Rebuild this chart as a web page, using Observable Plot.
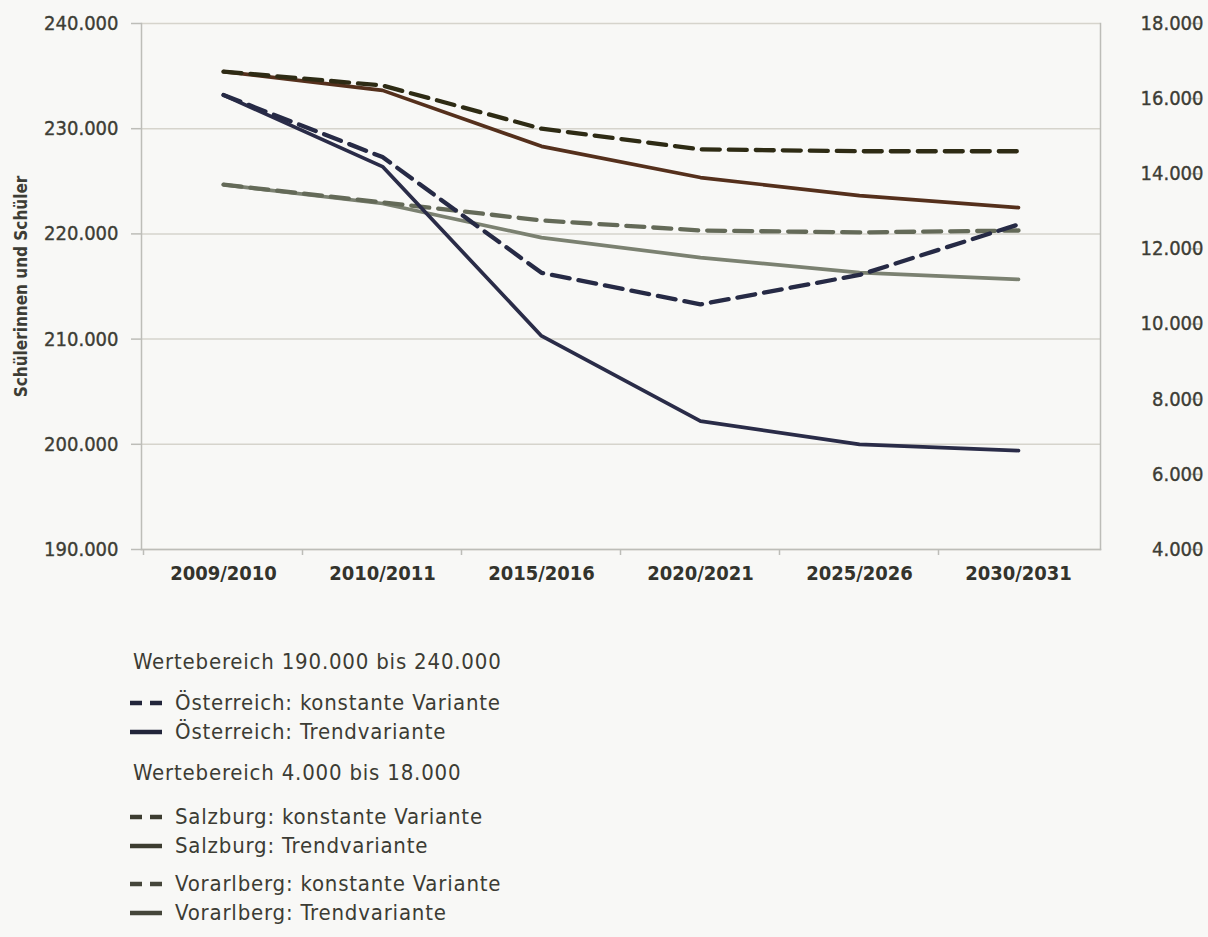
<!DOCTYPE html>
<html><head><meta charset="utf-8">
<script src="https://cdn.jsdelivr.net/npm/d3@7"></script>
<script src="https://cdn.jsdelivr.net/npm/@observablehq/plot@0.6"></script>
<style>
html,body{margin:0;padding:0;background:#f8f8f6;}
#wrap{position:relative;width:1208px;height:937px;overflow:hidden;}
#chart{position:absolute;left:0;top:0;}
.lg{position:absolute;font-family:"DejaVu Sans Condensed","DejaVu Sans",sans-serif;font-size:22px;color:#3c3c34;line-height:26px;white-space:nowrap;letter-spacing:0.8px;}
.lg svg{position:absolute;left:-46px;top:10px;}
</style></head><body>
<div id="wrap"><div id="chart"></div><div id="legend"></div></div>
<script>
// ---- data ----
const categories = ["2009/2010", "2010/2011", "2015/2016", "2020/2021", "2025/2026", "2030/2031"];
// left axis (190.000 bis 240.000)
const oesterreichKonstant = [233200, 227300, 216300, 213300, 216100, 220900];
const oesterreichTrend    = [233200, 226400, 210300, 202200, 200000, 199400];
// right axis (4.000 bis 18.000)
const salzburgKonstant   = [16720, 16350, 15200, 14650, 14600, 14600];
const salzburgTrend      = [16720, 16220, 14730, 13900, 13420, 13100];
const vorarlbergKonstant = [13710, 13240, 12760, 12490, 12440, 12490];
const vorarlbergTrend    = [13710, 13210, 12300, 11770, 11370, 11190];
const leftTicks  = [190000, 200000, 210000, 220000, 230000, 240000];
const rightTicks = [4000, 6000, 8000, 10000, 12000, 14000, 16000, 18000];
const yLabel = "Schülerinnen und Schüler";
const legendHeader1 = "Wertebereich 190.000 bis 240.000";
const legendHeader2 = "Wertebereich 4.000 bis 18.000";

// ---- helpers ----
const de = d3.formatLocale({decimal: ",", thousands: ".", grouping: [3], currency: ["", " €"]}).format(",");
const L0 = leftTicks[0], L1 = leftTicks[leftTicks.length - 1];
const R0 = rightTicks[0], R1 = rightTicks[rightTicks.length - 1];
const toLeft = v => L0 + (v - R0) * (L1 - L0) / (R1 - R0);
const fromLeft = v => R0 + (v - L0) * (R1 - R0) / (L1 - L0);

const series = [
  {name: "Vorarlberg: Trendvariante", values: vorarlbergTrend, right: true, color: "#7b8171", dash: null, lg: "#45463a"},
  {name: "Vorarlberg: konstante Variante", values: vorarlbergKonstant, right: true, color: "#646a58", dash: "18,9", lg: "#45463a"},
  {name: "Salzburg: Trendvariante", values: salzburgTrend, right: true, color: "#55301c", dash: null, lg: "#3c3c30"},
  {name: "Salzburg: konstante Variante", values: salzburgKonstant, right: true, color: "#2e2b14", dash: "18,9", lg: "#3c3c30"},
  {name: "Österreich: Trendvariante", values: oesterreichTrend, right: false, color: "#2a2c48", dash: null, lg: "#22253a"},
  {name: "Österreich: konstante Variante", values: oesterreichKonstant, right: false, color: "#262a45", dash: "18,9", lg: "#22253a"}
];

const lineMarks = series.map(s => Plot.line(
  categories.map((c, i) => ({cat: c, v: s.right ? toLeft(s.values[i]) : s.values[i]})),
  {x: "cat", y: "v", stroke: s.color, strokeWidth: s.dash ? 4.3 : 3.7, strokeDasharray: s.dash, strokeLinejoin: "round", curve: "linear"}
));

const axisColor = "#bdbdb8";
const font = "DejaVu Sans Condensed";

const plot = Plot.plot({
  width: 1208, height: 600,
  marginLeft: 141, marginRight: 108, marginTop: 23, marginBottom: 51,
  style: {background: "transparent", fontFamily: font, color: "#3d3d35"},
  x: {type: "point", domain: categories, padding: 0.5, label: null},
  y: {domain: [L0, L1], label: null},
  marks: [
    Plot.ruleY(leftTicks, {stroke: "#d6d4cc", strokeWidth: 1.5}),
    Plot.frame({anchor: "left", stroke: axisColor, strokeWidth: 1.5}),
    Plot.frame({anchor: "right", stroke: axisColor, strokeWidth: 1.5}),
    Plot.frame({anchor: "bottom", stroke: axisColor, strokeWidth: 1.5}),
    Plot.ruleX(categories, {x: d => d, y1: L0, y2: L0, dx: -80, insetBottom: -6, stroke: axisColor, strokeWidth: 1.5}),
    Plot.axisY(leftTicks, {anchor: "left", label: null, tickSize: 10, tickPadding: 13, tickFormat: de, fontSize: 20, stroke: axisColor, strokeWidth: 1.5, fill: "#3d3d35", textStroke: "#3d3d35", textStrokeWidth: 0.35}),
    Plot.axisY(rightTicks.map(toLeft), {anchor: "right", label: null, tickSize: 10, tickPadding: 3, textAnchor: "end", dx: 90,
      tickFormat: d => de(Math.round(fromLeft(d))), fontSize: 20, stroke: axisColor, strokeWidth: 1.5, fill: "#3d3d35", textStroke: "#3d3d35", textStrokeWidth: 0.35}),
    Plot.axisX({label: null, tickSize: 0, tickPadding: 16, fontSize: 20, fontWeight: "bold", fill: "#33332c"}),
    ...lineMarks,
    Plot.text([yLabel], {frameAnchor: "left", textAnchor: "middle", rotate: -90, dx: -120, fontSize: 17, fontWeight: "bold", fill: "#3d3d35"})
  ]
});
document.getElementById("chart").appendChild(plot);

// ---- legend ----
const legend = document.getElementById("legend");
function addRow(text, centerY, left, s) {
  const d = document.createElement("div");
  d.className = "lg";
  d.style.left = left + "px";
  d.style.top = (centerY - 13) + "px";
  d.textContent = text;
  if (s) {
    const ns = "http://www.w3.org/2000/svg";
    const svg = document.createElementNS(ns, "svg");
    svg.setAttribute("width", 34); svg.setAttribute("height", 6);
    const ln = document.createElementNS(ns, "line");
    ln.setAttribute("x1", 1); ln.setAttribute("x2", 33); ln.setAttribute("y1", 3); ln.setAttribute("y2", 3);
    ln.setAttribute("stroke", s.lg); ln.setAttribute("stroke-width", 4.5);
    if (s.dash) ln.setAttribute("stroke-dasharray", "12,8");
    svg.appendChild(ln);
    d.appendChild(svg);
  }
  legend.appendChild(d);
}
const byName = n => series.find(s => s.name === n);
addRow(legendHeader1, 662, 133);
addRow("Österreich: konstante Variante", 703, 175, byName("Österreich: konstante Variante"));
addRow("Österreich: Trendvariante", 732, 175, byName("Österreich: Trendvariante"));
addRow(legendHeader2, 773, 133);
addRow("Salzburg: konstante Variante", 817, 175, byName("Salzburg: konstante Variante"));
addRow("Salzburg: Trendvariante", 846, 175, byName("Salzburg: Trendvariante"));
addRow("Vorarlberg: konstante Variante", 884, 175, byName("Vorarlberg: konstante Variante"));
addRow("Vorarlberg: Trendvariante", 913, 175, byName("Vorarlberg: Trendvariante"));
</script>
</body></html>
